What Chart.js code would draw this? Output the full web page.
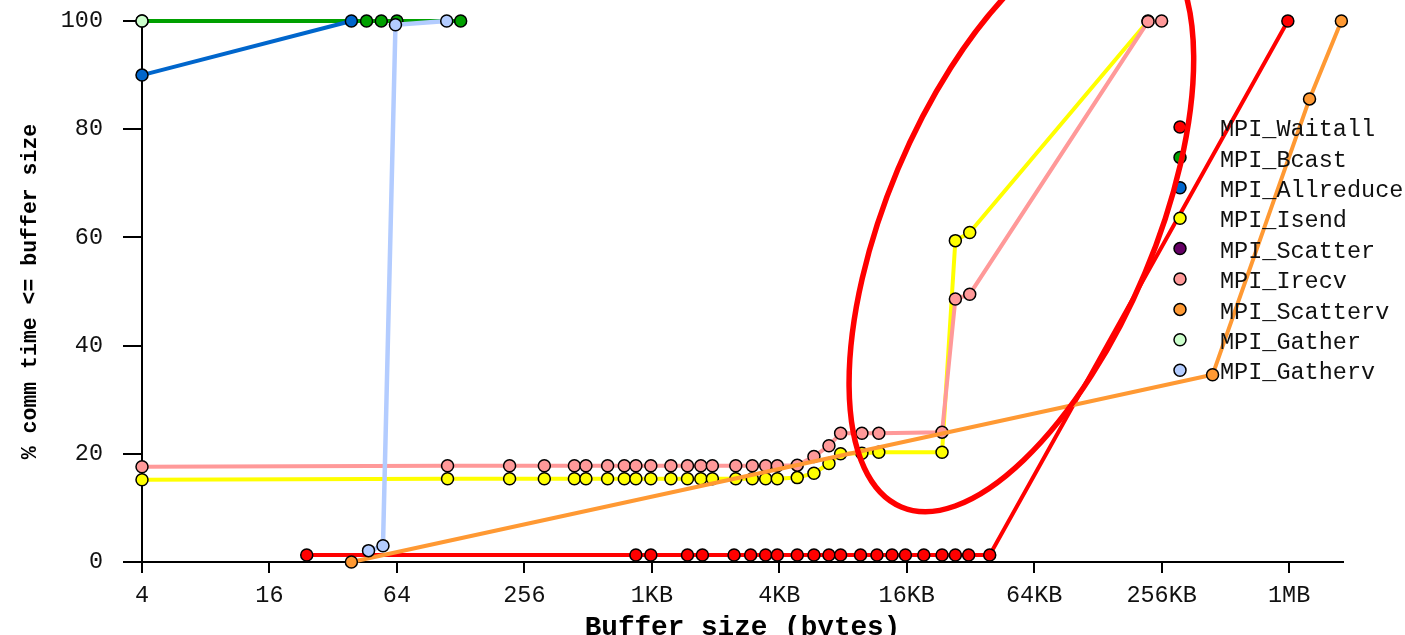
<!DOCTYPE html>
<html>
<head>
<meta charset="utf-8">
<script src="https://cdn.jsdelivr.net/npm/chart.js@4.4.1/dist/chart.umd.min.js"></script>
<style>
  html, body { margin: 0; padding: 0; background: #fff; }
  #wrap { width: 1405px; height: 635px; }
</style>
</head>
<body>
<div id="wrap"><canvas id="chart" width="1405" height="635"></canvas></div>
<script>
// ---- data (buffer size in bytes, cumulative % of comm time) ----
const xTickValues = [4, 16, 64, 256, 1024, 4096, 16384, 65536, 262144, 1048576];
const xTickLabels = ['4', '16', '64', '256', '1KB', '4KB', '16KB', '64KB', '256KB', '1MB'];
const X_MIN = 4;
const X_MAX = 1884000;

const waitallSizes = [24, 861, 1013, 1509, 1775, 2504, 3000, 3530, 4009, 4980, 5970, 7030, 7980, 9910, 11850, 13960, 16150, 19720, 24050, 27800, 32130, 40400, 1034000];
const waitallPct   = [1.3, 1.3, 1.3, 1.3, 1.3, 1.3, 1.3, 1.3, 1.3, 1.3, 1.3, 1.3, 1.3, 1.3, 1.3, 1.3, 1.3, 1.3, 1.3, 1.3, 1.3, 1.3, 100];

const bcastSizes = [4, 46, 54, 64, 128];
const bcastPct   = [100, 100, 100, 100, 100];

const allreduceSizes = [4, 39];
const allreducePct   = [90, 100];

const isendSizes = [4, 111, 218, 318, 441, 500, 633, 759, 861, 1013, 1260, 1509, 1745, 1978, 2551, 3055, 3533, 4009, 4980, 5970, 7030, 7980, 10060, 12090, 24050, 27800, 32500, 226000];
const isendPct   = [15.2, 15.4, 15.4, 15.4, 15.4, 15.4, 15.4, 15.4, 15.4, 15.4, 15.4, 15.4, 15.4, 15.4, 15.4, 15.4, 15.4, 15.4, 15.6, 16.4, 18.2, 20.0, 20.1, 20.3, 20.3, 59.4, 60.9, 100];

const scatterSizes = [];
const scatterPct   = [];

const irecvSizes = [4, 111, 218, 318, 441, 500, 633, 759, 861, 1013, 1260, 1509, 1745, 1978, 2551, 3055, 3533, 4009, 4980, 5970, 7030, 7980, 10060, 12090, 24050, 27800, 32500, 226000, 262000];
const irecvPct   = [17.6, 17.8, 17.8, 17.8, 17.8, 17.8, 17.8, 17.8, 17.8, 17.8, 17.8, 17.8, 17.8, 17.8, 17.8, 17.8, 17.8, 17.8, 17.9, 19.5, 21.5, 23.8, 23.8, 23.8, 24.0, 48.6, 49.5, 99.9, 100];

const scattervSizes = [39, 456000, 1309000, 1851000];
const scattervPct   = [0, 34.6, 85.6, 100];

const gatherSizes = [4];
const gatherPct   = [100];

const gathervSizes = [47, 55, 63, 110];
const gathervPct   = [2.1, 3.0, 99.3, 100];

const seriesNames  = ['MPI_Waitall', 'MPI_Bcast', 'MPI_Allreduce', 'MPI_Isend', 'MPI_Scatter', 'MPI_Irecv', 'MPI_Scatterv', 'MPI_Gather', 'MPI_Gatherv'];
const seriesColors = ['#ff0000', '#00a000', '#0066cc', '#ffff00', '#660066', '#ff9999', '#ff9933', '#ccffcc', '#b3ccff'];
const seriesSizes  = [waitallSizes, bcastSizes, allreduceSizes, isendSizes, scatterSizes, irecvSizes, scattervSizes, gatherSizes, gathervSizes];
const seriesPct    = [waitallPct, bcastPct, allreducePct, isendPct, scatterPct, irecvPct, scattervPct, gatherPct, gathervPct];

// annotation: hand drawn ellipse, centre in data units
const ELLIPSE_CENTER = { x: 57000, y: 63 };

const MONO = "'Liberation Mono', 'DejaVu Sans Mono', monospace";

const datasets = seriesNames.map((name, i) => ({
  label: name,
  data: seriesSizes[i].map((s, k) => ({ x: s, y: seriesPct[i][k] })),
  borderColor: seriesColors[i],
  backgroundColor: seriesColors[i],
  borderWidth: name === 'MPI_Gatherv' ? 4.5 : 4,
  pointRadius: 6,
  pointBorderWidth: 1.5,
  pointBorderColor: '#000',
  pointBackgroundColor: seriesColors[i],
  tension: 0,
  clip: false,
  order: seriesNames.length - i   // later series drawn on top
}));

const sideLegend = {
  id: 'sideLegend',
  afterDraw(chart) {
    const ctx = chart.ctx, a = chart.chartArea;
    ctx.save();
    chart.data.datasets.forEach((ds, i) => {
      const y = a.top + 106 + i * 30.4;
      const mx = a.right - 163;
      ctx.beginPath();
      ctx.arc(mx, y, 6, 0, Math.PI * 2);
      ctx.fillStyle = ds.backgroundColor;
      ctx.fill();
      ctx.lineWidth = 1.5;
      ctx.strokeStyle = '#000';
      ctx.stroke();
      ctx.fillStyle = '#111';
      ctx.font = "23.5px " + MONO;
      ctx.textAlign = 'left';
      ctx.textBaseline = 'middle';
      ctx.fillText(ds.label, a.right - 123, y + 3);
    });
    // red ellipse annotation
    const cx = chart.scales.x.getPixelForValue(ELLIPSE_CENTER.x);
    const cy = chart.scales.y.getPixelForValue(ELLIPSE_CENTER.y);
    ctx.beginPath();
    ctx.ellipse(cx, cy, 310, 134, -67.2 * Math.PI / 180, 0, Math.PI * 2);
    ctx.lineWidth = 5.5;
    ctx.strokeStyle = '#ff0000';
    ctx.stroke();
    ctx.restore();
  }
};

new Chart(document.getElementById('chart'), {
  type: 'line',
  data: { datasets },
  options: {
    responsive: false,
    animation: false,
    devicePixelRatio: 1,
    layout: { autoPadding: false, padding: { top: 21, right: 62, left: 0, bottom: 0 } },
    plugins: { legend: { display: false }, tooltip: { enabled: false } },
    scales: {
      x: {
        type: 'logarithmic',
        min: X_MIN,
        max: X_MAX,
        bounds: 'data',
        afterBuildTicks: s => { s.ticks = xTickValues.map(v => ({ value: v })); },
        afterFit: s => { s.height = 73; s.paddingLeft = 0; s.paddingRight = 0; },
        ticks: {
          autoSkip: false,
          maxRotation: 0,
          padding: 9,
          color: '#111',
          font: { family: MONO, size: 23.5 },
          callback: (v, idx) => xTickLabels[idx]
        },
        grid: { drawOnChartArea: false, drawTicks: true, tickLength: 11, color: '#000', lineWidth: 2 },
        border: { color: '#000', width: 2 },
        title: {
          display: true,
          text: 'Buffer size (bytes)',
          color: '#000',
          font: { family: MONO, size: 27.7, weight: 'bold', lineHeight: 1 },
          padding: { top: 0, bottom: -7 }
        }
      },
      y: {
        min: 0,
        max: 100,
        afterFit: s => { s.width = 142; s.paddingTop = 0; s.paddingBottom = 0; },
        ticks: {
          stepSize: 20,
          padding: 20,
          color: '#111',
          font: { family: MONO, size: 23.5 }
        },
        grid: { drawOnChartArea: false, drawTicks: true, tickLength: 19, color: '#000', lineWidth: 2 },
        border: { color: '#000', width: 2 },
        title: {
          display: true,
          text: '% comm time <= buffer size',
          color: '#000',
          font: { family: MONO, size: 21.5, weight: 'bold', lineHeight: 1 },
          padding: { top: 20, bottom: 0 }
        }
      }
    }
  },
  plugins: [sideLegend]
});
</script>
</body>
</html>
